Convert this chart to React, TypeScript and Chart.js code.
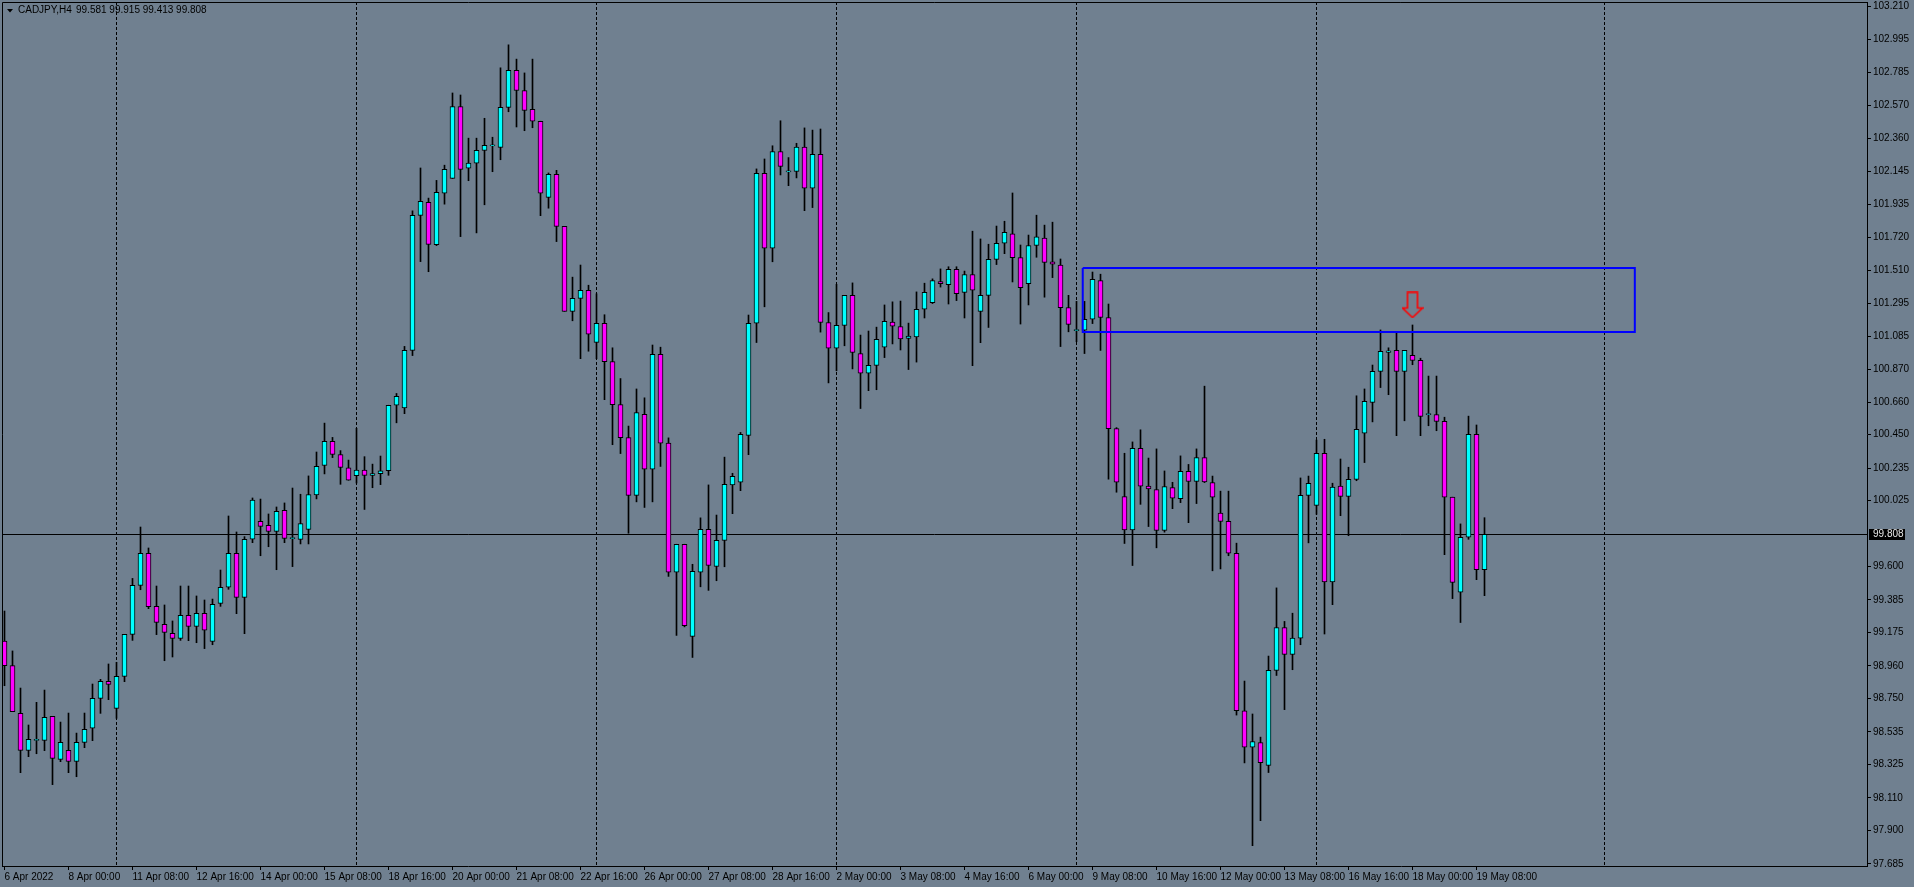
import React, { useEffect, useRef } from 'react';
import { Chart, registerables } from 'chart.js';

Chart.register(...registerables);

// ---- DATA (CADJPY, H4) ----
const symbolName = 'CADJPY,H4';

const opens = [
  99.121, 98.962, 98.655, 98.417, 98.481, 98.481, 98.636, 98.359, 98.417, 98.346,
  98.468, 98.559, 98.752, 98.861, 98.687, 98.893, 99.164, 99.479, 99.685, 99.344,
  99.228, 99.170, 99.138, 99.286, 99.215, 99.299, 99.119, 99.363, 99.467, 99.685,
  99.402, 99.776, 99.891, 99.866, 99.827, 99.962, 99.780, 99.775, 99.840, 100.062,
  100.251, 100.406, 100.321, 100.236, 100.186, 100.222, 100.188, 100.199, 100.218, 100.639,
  100.622, 100.992, 101.862, 101.945, 101.673, 102.004, 102.100, 102.563, 102.165, 102.198,
  102.280, 102.309, 102.300, 102.557, 102.796, 102.666, 102.544, 102.468, 101.978, 102.126,
  101.791, 101.244, 101.327, 101.379, 101.044, 101.167, 100.921, 100.643, 100.431, 100.059,
  100.581, 100.227, 100.967, 100.395, 99.564, 99.744, 99.150, 99.564, 99.840, 99.601,
  99.769, 100.126, 100.144, 100.445, 101.167, 102.133, 101.650, 102.273, 102.142, 102.145,
  102.301, 102.037, 102.255, 101.172, 101.006, 101.153, 101.347, 100.972, 100.845, 100.896,
  101.013, 101.174, 101.146, 101.070, 101.079, 101.257, 101.299, 101.436, 101.416, 101.514,
  101.366, 101.481, 101.243, 101.347, 101.578, 101.682, 101.743, 101.590, 101.422, 101.668,
  101.715, 101.562, 101.542, 101.268, 101.120, 101.123, 101.193, 101.442, 101.204, 100.489,
  100.051, 99.836, 100.361, 100.118, 100.096, 99.833, 100.109, 100.037, 100.213, 100.149,
  100.302, 100.141, 99.944, 99.891, 99.686, 98.672, 98.437, 98.467, 98.320, 98.932,
  99.208, 99.035, 99.139, 100.059, 99.994, 100.330, 99.502, 100.119, 100.052, 100.162,
  100.459, 100.657, 100.857, 100.979, 100.992, 100.857, 100.960, 100.928, 100.579, 100.579,
  100.535, 100.047, 99.435, 99.789, 100.452, 99.581,
];
const highs = [
  99.314, 99.057, 98.818, 98.580, 98.726, 98.805, 98.636, 98.599, 98.657, 98.528,
  98.657, 98.844, 98.874, 98.973, 98.984, 99.164, 99.524, 99.855, 99.720, 99.475,
  99.353, 99.250, 99.475, 99.475, 99.411, 99.385, 99.391, 99.578, 99.926, 99.823,
  99.793, 100.042, 100.035, 99.939, 99.984, 100.010, 100.106, 100.066, 100.184, 100.338,
  100.524, 100.432, 100.347, 100.286, 100.491, 100.308, 100.260, 100.312, 100.639, 100.715,
  101.018, 101.891, 102.167, 101.973, 102.087, 102.185, 102.650, 102.637, 102.359, 102.359,
  102.487, 102.365, 102.812, 102.960, 102.868, 102.779, 102.868, 102.468, 102.135, 102.152,
  101.791, 101.464, 101.542, 101.412, 101.357, 101.222, 101.009, 100.811, 100.505, 100.744,
  100.687, 101.027, 101.013, 100.429, 99.744, 99.744, 99.615, 99.914, 100.126, 99.932,
  100.305, 100.201, 100.464, 101.220, 102.161, 102.225, 102.310, 102.471, 102.234, 102.326,
  102.425, 102.411, 102.418, 101.236, 101.418, 101.347, 101.427, 101.091, 101.117, 101.142,
  101.285, 101.305, 101.310, 101.168, 101.369, 101.425, 101.453, 101.517, 101.531, 101.531,
  101.503, 101.760, 101.710, 101.676, 101.793, 101.824, 102.006, 101.671, 101.735, 101.863,
  101.799, 101.818, 101.581, 101.347, 101.308, 101.308, 101.497, 101.483, 101.291, 100.495,
  100.330, 100.403, 100.481, 100.299, 100.358, 100.216, 100.143, 100.313, 100.258, 100.358,
  100.762, 100.183, 100.086, 100.086, 99.751, 98.863, 98.651, 98.502, 99.024, 99.463,
  99.247, 99.300, 100.171, 100.183, 100.415, 100.420, 100.137, 100.293, 100.240, 100.700,
  100.744, 100.898, 101.124, 101.009, 101.114, 100.992, 101.156, 100.942, 100.827, 100.827,
  100.562, 100.047, 99.875, 100.569, 100.512, 99.915,
];
const lows = [
  98.833, 98.666, 98.273, 98.376, 98.395, 98.415, 98.196, 98.344, 98.273, 98.247,
  98.434, 98.479, 98.655, 98.743, 98.623, 98.859, 99.125, 99.451, 99.329, 99.162,
  98.994, 99.018, 99.125, 99.123, 99.110, 99.072, 99.097, 99.344, 99.454, 99.297,
  99.168, 99.754, 99.670, 99.728, 99.580, 99.754, 99.600, 99.746, 99.746, 100.036,
  100.197, 100.302, 100.130, 100.156, 100.138, 99.968, 100.108, 100.128, 100.188, 100.526,
  100.585, 100.959, 101.564, 101.499, 101.667, 101.934, 102.100, 101.725, 102.085, 101.749,
  101.930, 102.143, 102.220, 102.529, 102.431, 102.407, 102.426, 101.860, 101.908, 101.693,
  101.244, 101.183, 100.939, 100.987, 100.939, 100.675, 100.385, 100.328, 99.815, 100.017,
  99.981, 100.017, 100.245, 99.537, 99.157, 99.212, 99.015, 99.470, 99.447, 99.509,
  99.599, 99.941, 100.089, 100.321, 101.043, 101.273, 101.563, 102.122, 102.053, 102.103,
  101.892, 101.912, 101.110, 100.783, 100.861, 101.022, 100.873, 100.618, 100.733, 100.739,
  100.946, 101.034, 100.995, 100.869, 100.917, 101.201, 101.294, 101.400, 101.291, 101.313,
  101.201, 100.894, 101.042, 101.140, 101.545, 101.615, 101.433, 101.162, 101.285, 101.592,
  101.335, 101.461, 101.017, 101.112, 101.048, 100.972, 101.165, 100.992, 100.163, 100.079,
  99.749, 99.607, 100.001, 99.858, 99.721, 99.822, 99.973, 100.012, 99.883, 100.006,
  100.141, 99.573, 99.585, 99.670, 98.644, 98.336, 97.803, 97.964, 98.274, 98.899,
  98.679, 98.936, 99.097, 99.753, 99.937, 99.166, 99.355, 99.928, 99.799, 100.153,
  100.270, 100.532, 100.753, 100.707, 100.443, 100.539, 100.900, 100.443, 100.507, 100.475,
  99.677, 99.394, 99.240, 99.776, 99.516, 99.413,
];
const closes = [
  98.962, 98.666, 98.417, 98.488, 98.481, 98.629, 98.365, 98.468, 98.346, 98.468,
  98.552, 98.752, 98.861, 98.842, 98.893, 99.164, 99.479, 99.685, 99.342, 99.241,
  99.177, 99.138, 99.286, 99.215, 99.299, 99.190, 99.357, 99.467, 99.685, 99.402,
  99.776, 100.029, 99.859, 99.827, 99.956, 99.782, 99.780, 99.877, 100.064, 100.245,
  100.406, 100.323, 100.238, 100.156, 100.222, 100.188, 100.199, 100.216, 100.639, 100.696,
  100.992, 101.862, 101.952, 101.675, 102.010, 102.158, 102.563, 102.158, 102.198, 102.280,
  102.313, 102.309, 102.557, 102.796, 102.666, 102.537, 102.468, 102.004, 102.126, 101.791,
  101.244, 101.327, 101.379, 101.096, 101.166, 100.919, 100.643, 100.431, 100.059, 100.592,
  100.227, 100.967, 100.395, 99.564, 99.744, 99.219, 99.569, 99.840, 99.608, 99.769,
  100.130, 100.181, 100.452, 101.167, 102.133, 101.650, 102.273, 102.177, 102.142, 102.301,
  102.037, 102.255, 101.172, 101.006, 101.153, 101.347, 100.979, 100.845, 100.896, 101.064,
  101.179, 101.148, 101.067, 101.084, 101.257, 101.366, 101.442, 101.422, 101.514, 101.358,
  101.481, 101.380, 101.347, 101.578, 101.682, 101.752, 101.590, 101.397, 101.668, 101.724,
  101.559, 101.548, 101.268, 101.160, 101.120, 101.193, 101.450, 101.204, 100.489, 100.143,
  99.836, 100.361, 100.118, 100.101, 99.833, 100.115, 100.040, 100.213, 100.149, 100.302,
  100.146, 100.047, 99.891, 99.686, 98.672, 98.437, 98.474, 98.338, 98.932, 99.208,
  99.035, 99.139, 100.059, 100.137, 100.330, 99.502, 100.112, 100.052, 100.162, 100.484,
  100.664, 100.857, 100.986, 100.990, 100.857, 100.992, 100.928, 100.567, 100.579, 100.535,
  100.047, 99.498, 99.789, 100.452, 99.581, 99.808,
];

// time axis labels (every 8 bars)
const xTickBars = [0, 8, 16, 24, 32, 40, 48, 56, 64, 72, 80, 88, 96, 104, 112, 120, 128, 136, 144, 152, 160, 168, 176, 184];
const xTickLabels = [
  '6 Apr 2022', '8 Apr 00:00', '11 Apr 08:00', '12 Apr 16:00', '14 Apr 00:00', '15 Apr 08:00',
  '18 Apr 16:00', '20 Apr 00:00', '21 Apr 08:00', '22 Apr 16:00', '26 Apr 00:00', '27 Apr 08:00',
  '28 Apr 16:00', '2 May 00:00', '3 May 08:00', '4 May 16:00', '6 May 00:00', '9 May 08:00',
  '10 May 16:00', '12 May 00:00', '13 May 08:00', '16 May 16:00', '18 May 00:00', '19 May 08:00',
];
// price axis labels
const yTickLabels = [
  '103.210', '102.995', '102.785', '102.570', '102.360', '102.145', '101.935', '101.720', '101.510',
  '101.295', '101.085', '100.870', '100.660', '100.450', '100.235', '100.025', '99.600', '99.385',
  '99.175', '98.960', '98.750', '98.535', '98.325', '98.110', '97.900', '97.685',
];
// weekly separators (bar index)
const gridBars = [14, 44, 74, 104, 134, 164, 200];
// rectangle object (bar index, price)
const rectBars = [134.78, 203.79];
const rectPrices = [101.523, 101.111];
// arrow object
const arrowBar = [176];
const arrowPrice = [101.285];

const BG = '#708090';
const BULL = '#00ffff';
const BEAR = '#ff00ff';
const FONT = "'Liberation Sans', Arial, sans-serif";

function makeArrow(): HTMLCanvasElement {
  const c = document.createElement('canvas');
  c.width = 22;
  c.height = 27;
  const g = c.getContext('2d')!;
  g.strokeStyle = '#ff0000';
  g.lineWidth = 1.6;
  g.beginPath();
  g.moveTo(6, 1);
  g.lineTo(16, 1);
  g.lineTo(16, 16.5);
  g.lineTo(21, 16.5);
  g.lineTo(11, 26);
  g.lineTo(1, 16.5);
  g.lineTo(6, 16.5);
  g.closePath();
  g.stroke();
  return c;
}

const mtPlugin = {
  id: 'mtDecor',
  beforeDraw(chart: any) {
    const { ctx, width, height } = chart;
    ctx.save();
    ctx.fillStyle = BG;
    ctx.fillRect(0, 0, width, height);
    ctx.restore();
  },
  beforeDatasetsDraw(chart: any) {
    const { ctx, chartArea: a, scales } = chart;
    const x = scales.x;
    const y = scales.y;
    ctx.save();
    ctx.beginPath();
    ctx.rect(a.left, a.top, a.right - a.left, a.bottom - a.top);
    ctx.clip();
    ctx.strokeStyle = '#000';
    ctx.lineWidth = 1;
    ctx.setLineDash([3, 2]);
    gridBars.forEach((b) => {
      const px = Math.round(x.getPixelForValue(b) - 0.5) + 0.5;
      ctx.beginPath();
      ctx.moveTo(px, a.top);
      ctx.lineTo(px, a.bottom);
      ctx.stroke();
    });
    ctx.setLineDash([]);
    const last = closes[closes.length - 1];
    const py = Math.floor(y.getPixelForValue(last)) + 0.5;
    ctx.beginPath();
    ctx.moveTo(a.left, py);
    ctx.lineTo(a.right, py);
    ctx.stroke();
    ctx.restore();
  },
  afterDraw(chart: any) {
    const { ctx, chartArea: a, scales } = chart;
    const y = scales.y;
    ctx.save();
    // frame (top and left)
    ctx.strokeStyle = '#000';
    ctx.lineWidth = 1;
    ctx.beginPath();
    ctx.moveTo(a.left + 0.5, a.bottom);
    ctx.lineTo(a.left + 0.5, a.top + 0.5);
    ctx.lineTo(a.right, a.top + 0.5);
    ctx.stroke();
    // header
    const n = closes.length - 1;
    ctx.fillStyle = '#000';
    ctx.beginPath();
    ctx.moveTo(7, 9);
    ctx.lineTo(13, 9);
    ctx.lineTo(10, 12.5);
    ctx.closePath();
    ctx.fill();
    ctx.font = `10px ${FONT}`;
    ctx.textBaseline = 'middle';
    ctx.textAlign = 'left';
    ctx.fillText(symbolName, 18, 10.5);
    ctx.fillText(
      `${opens[n].toFixed(3)} ${highs[n].toFixed(3)} ${lows[n].toFixed(3)} ${closes[n].toFixed(3)}`,
      76,
      10.5
    );
    // price tag
    const py = Math.floor(y.getPixelForValue(closes[n]));
    ctx.fillStyle = '#000';
    ctx.fillRect(a.right + 2, py - 5, 36, 11);
    ctx.fillStyle = '#e6e6e6';
    ctx.fillText(closes[n].toFixed(3), a.right + 6, py + 0.5);
    ctx.restore();
  },
};

export default function App() {
  const ref = useRef<HTMLCanvasElement | null>(null);

  useEffect(() => {
    document.body.style.margin = '0';
    document.body.style.overflow = 'hidden';
    const canvas = ref.current!;
    const bodies = opens.map((o, i) => ({ x: i, y: [o, closes[i]] }));
    const wicks = lows.map((l, i) => ({ x: i, y: [l, highs[i]] }));
    const rect = [
      { x: rectBars[0], y: rectPrices[0] },
      { x: rectBars[1], y: rectPrices[0] },
      { x: rectBars[1], y: rectPrices[1] },
      { x: rectBars[0], y: rectPrices[1] },
      { x: rectBars[0], y: rectPrices[0] },
    ];
    const arrows = arrowBar.map((b, i) => ({ x: b, y: arrowPrice[i] }));
    const arrowImg = makeArrow();

    const chart = new Chart(canvas, {
      type: 'bar',
      data: {
        datasets: [
          {
            type: 'line',
            data: rect as any,
            borderColor: '#0000ff',
            borderWidth: 2,
            pointRadius: 0,
            fill: false,
            tension: 0,
            order: 0,
          } as any,
          {
            type: 'scatter',
            data: arrows as any,
            pointStyle: arrowImg as any,
            pointRadius: 11,
            order: 0,
          } as any,
          {
            type: 'bar',
            data: bodies as any,
            barThickness: 5,
            borderWidth: 1,
            borderColor: '#000',
            borderSkipped: false,
            minBarLength: 1,
            grouped: false,
            backgroundColor: (c: any) => {
              const i = c.dataIndex;
              return closes[i] >= opens[i] ? BULL : BEAR;
            },
            order: 1,
          } as any,
          {
            type: 'bar',
            data: wicks as any,
            barThickness: 1,
            borderWidth: 0,
            grouped: false,
            backgroundColor: '#000',
            order: 2,
          } as any,
        ],
      },
      options: {
        responsive: false,
        animation: false,
        devicePixelRatio: 1,
        events: [],
        layout: { autoPadding: false, padding: { left: 2, top: 2, right: 0, bottom: 0 } },
        plugins: { legend: { display: false }, tooltip: { enabled: false }, title: { display: false } },
        scales: {
          x: {
            type: 'linear',
            position: 'bottom',
            offset: false,
            min: -0.3125,
            max: 232.8125,
            bounds: 'data',
            afterBuildTicks: (s: any) => {
              s.ticks = xTickBars.map((v) => ({ value: v }));
            },
            afterFit: (s: any) => {
              s.height = 21;
              s.paddingLeft = 0;
              s.paddingRight = 0;
              s.paddingTop = 0;
              s.paddingBottom = 0;
            },
            ticks: {
              autoSkip: false,
              maxRotation: 0,
              minRotation: 0,
              align: 'start',
              padding: 1,
              color: '#000',
              font: { family: FONT, size: 10 },
              callback: (_v: any, i: number) => xTickLabels[i],
            },
            grid: { offset: false, drawOnChartArea: false, drawTicks: true, tickLength: 4, color: '#000' },
            border: { display: true, color: '#000', width: 1 },
          } as any,
          y: {
            type: 'linear',
            position: 'right',
            min: 97.6721,
            max: 103.2358,
            bounds: 'data',
            afterBuildTicks: (s: any) => {
              s.ticks = yTickLabels.map((l) => ({ value: parseFloat(l) }));
            },
            afterFit: (s: any) => {
              s.width = 47;
              s.paddingLeft = 0;
              s.paddingRight = 0;
              s.paddingTop = 0;
              s.paddingBottom = 0;
            },
            ticks: {
              autoSkip: false,
              padding: 2,
              color: '#000',
              font: { family: FONT, size: 10 },
              callback: (_v: any, i: number) => yTickLabels[i],
            },
            grid: { drawOnChartArea: false, drawTicks: true, tickLength: 4, color: '#000' },
            border: { display: true, color: '#000', width: 1 },
          } as any,
        },
      },
      plugins: [mtPlugin],
    });
    return () => chart.destroy();
  }, []);

  return (
    <div style={{ width: 1914, height: 887, background: BG }}>
      <canvas ref={ref} width={1914} height={887} style={{ display: 'block', width: 1914, height: 887 }} />
    </div>
  );
}
